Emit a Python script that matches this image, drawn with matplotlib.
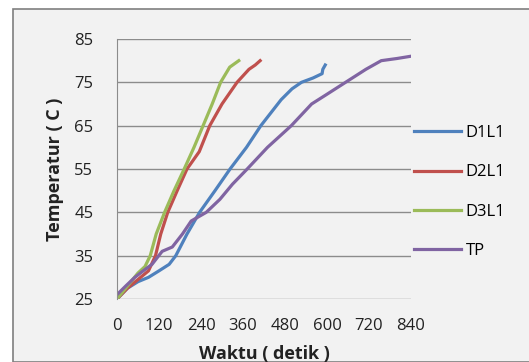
import matplotlib.pyplot as plt
from matplotlib.patches import Rectangle

# time (s) and temperature (C)
d1l1_t = [0, 30, 60, 90, 120, 149, 168, 200, 236, 280, 323, 370, 411, 440, 469, 500, 527, 560, 586, 588, 595]
d1l1_y = [25, 27.5, 29, 30, 31.5, 33, 35, 40, 45, 50, 55, 60, 65, 68, 71, 73.5, 75, 76, 77, 78, 79]

d2l1_t = [0, 30, 60, 90, 110, 125, 145, 172, 200, 235, 265, 300, 343, 377, 395, 409]
d2l1_y = [25, 27.5, 29.5, 31.5, 35, 40, 45, 50, 55, 59, 65, 70, 75, 78, 79, 80]

d3l1_t = [0, 20, 40, 60, 80, 95, 112, 136, 163, 192, 220, 246, 272, 296, 322, 348]
d3l1_y = [25, 27, 29, 31, 32.5, 35, 40, 45, 50, 55, 60, 65, 70, 75, 78.5, 80]

tp_t = [0, 25, 51, 75, 100, 129, 158, 187, 212, 255, 294, 330, 372, 430, 498, 556, 595, 653, 711, 755, 800, 838]
tp_y = [26, 28, 30, 31.5, 33, 36, 37, 40, 43, 45, 48, 51.5, 55, 60, 65, 70, 72, 75, 78, 80, 80.5, 81]

series = [
    ("D1L1", d1l1_t, d1l1_y, "#4F81BD"),
    ("D2L1", d2l1_t, d2l1_y, "#C0504D"),
    ("D3L1", d3l1_t, d3l1_y, "#9BBB59"),
    ("TP", tp_t, tp_y, "#8064A2"),
]

xticks = [0, 120, 240, 360, 480, 600, 720, 840]
yticks = [25, 35, 45, 55, 65, 75, 85]

plt.rcParams['font.family'] = ['Open Sans', 'DejaVu Sans']

fig = plt.figure(figsize=(5.29, 3.62), dpi=100)
fig.patch.set_facecolor("white")
fig.patches.append(Rectangle((13 / 529, 0), 1, 1 - 9 / 362, transform=fig.transFigure,
                             facecolor="#f2f2f2", edgecolor="#7f7f7f", linewidth=1.2, zorder=-1))

ax = fig.add_axes([117 / 529, 1 - 299 / 362, (411 - 117) / 529, (299 - 39) / 362])
ax.set_facecolor("none")

for name, t, y, c in series:
    ax.plot(t, y, color=c, linewidth=2.3, label=name)

ax.set_xlim(0, 840)
ax.set_ylim(25, 85)
ax.set_xticks(xticks)
ax.set_yticks(yticks)
ax.grid(axis="y", color="#8c8c8c", linewidth=1)
ax.set_axisbelow(True)
for s in ["top", "right", "bottom"]:
    ax.spines[s].set_visible(False)
ax.spines["left"].set_color("#8c8c8c")
ax.tick_params(length=0, labelsize=12, colors="#222222")
ax.tick_params(axis="x", pad=14)
ax.tick_params(axis="y", pad=17)

ax.set_xlabel("Waktu ( detik )", fontsize=13, fontweight="bold", color="#222222")
ax.set_ylabel("Temperatur ( C )", fontsize=13, fontweight="bold", color="#222222")
ax.xaxis.set_label_coords(0.5, -0.175)
ax.yaxis.set_label_coords(-0.18, 0.5)

ax.legend(loc="center left", bbox_to_anchor=(1.01, 0.4115), frameon=False, fontsize=12,
          handlelength=2.8, handletextpad=0.3, labelspacing=1.4, borderaxespad=0, borderpad=0)

fig.savefig("out.png", dpi=100)
